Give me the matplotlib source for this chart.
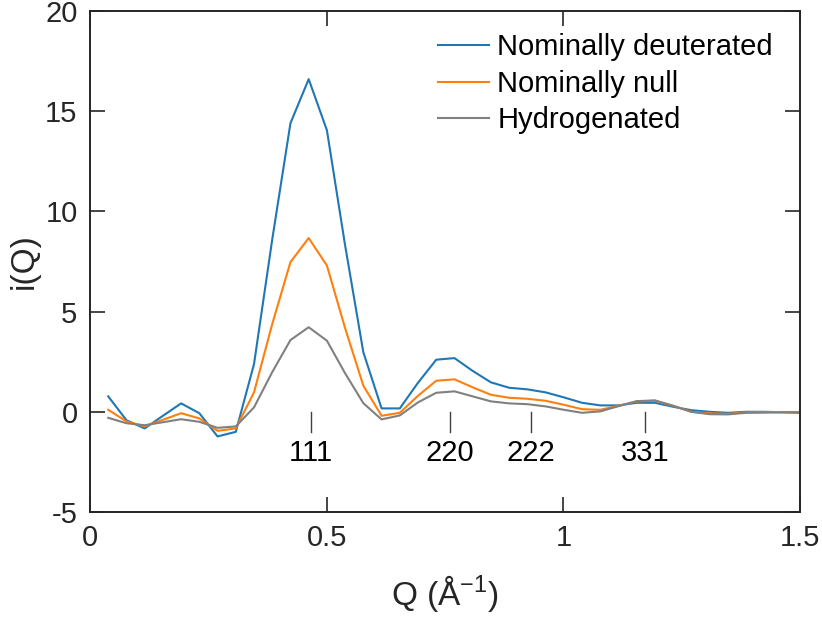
import numpy as np
from matplotlib import pyplot as plt

plt.rcParams['font.family'] = ['Liberation Sans', 'DejaVu Sans']
plt.rcParams['mathtext.fontset'] = 'custom'
plt.rcParams['mathtext.rm'] = 'Liberation Sans'
plt.rcParams['mathtext.it'] = 'Liberation Sans:italic'
plt.rcParams['axes.unicode_minus'] = False

# Q (1/Å)
Q = [0.0385, 0.0770, 0.1155, 0.1540, 0.1925, 0.2310, 0.2695, 0.3080, 0.3465, 0.3850,
     0.4235, 0.4620, 0.5005, 0.5390, 0.5775, 0.6160, 0.6545, 0.6930, 0.7315, 0.7700,
     0.8085, 0.8470, 0.8855, 0.9240, 0.9625, 1.0010, 1.0395, 1.0780, 1.1165, 1.1550,
     1.1935, 1.2320, 1.2705, 1.3090, 1.3475, 1.3860, 1.4245, 1.4630, 1.5015]

deuterated = [0.77, -0.42, -0.83, -0.2, 0.42, -0.07, -1.23, -1.0, 2.38, 8.6,
              14.4, 16.6, 14.05, 8.3, 2.97, 0.17, 0.17, 1.45, 2.6, 2.68,
              2.04, 1.47, 1.2, 1.12, 0.97, 0.72, 0.45, 0.32, 0.32, 0.45,
              0.45, 0.25, 0.08, 0.0, -0.05, 0.0, 0.0, -0.02, -0.05]

null = [0.1, -0.48, -0.73, -0.4, -0.07, -0.33, -0.95, -0.83, 0.97, 4.38,
        7.47, 8.67, 7.3, 4.17, 1.3, -0.2, -0.05, 0.8, 1.55, 1.62,
        1.22, 0.85, 0.7, 0.65, 0.55, 0.35, 0.13, 0.1, 0.3, 0.52,
        0.55, 0.3, 0.0, -0.08, -0.1, -0.03, -0.02, -0.01, -0.01]

hydrogenated = [-0.3, -0.57, -0.67, -0.52, -0.37, -0.5, -0.8, -0.73, 0.22, 1.98,
                3.58, 4.22, 3.55, 1.92, 0.43, -0.38, -0.18, 0.47, 0.95, 1.02,
                0.77, 0.52, 0.42, 0.38, 0.27, 0.1, -0.05, 0.02, 0.28, 0.53,
                0.57, 0.3, 0.0, -0.12, -0.13, -0.05, -0.04, -0.03, -0.03]

# picchi di Bragg
hkl = ['111', '220', '222', '331']
Q_hkl = [0.466, 0.761, 0.932, 1.173]

fig = plt.figure(figsize=(8.22, 6.17), dpi=100)
ax = fig.add_axes([90/822, 105/617, 710/822, 501/617])

ax.plot(Q, deuterated, color='#1f77b4', lw=1.5, label='Nominally deuterated')
ax.plot(Q, null, color='#ff7f0e', lw=1.5, label='Nominally null')
ax.plot(Q, hydrogenated, color='#808080', lw=1.5, label='Hydrogenated')

for lab, q in zip(hkl, Q_hkl):
    ax.plot([q, q], [0, -1], color='#404040', lw=1)
    ax.text(q, -2.05, lab, ha='center', va='center', fontsize=21, color='k')

ax.set_xlim(0, 1.5)
ax.set_ylim(-5, 20)
ax.set_xticks([0, 0.5, 1, 1.5])
ax.set_xticklabels(['0', '0.5', '1', '1.5'])
ax.set_yticks([-5, 0, 5, 10, 15, 20])

for s in ax.spines.values():
    s.set_color('#262626')
    s.set_linewidth(1.4)
ax.tick_params(direction='in', length=10.5, width=1.2, color='#262626',
               labelsize=21, labelcolor='#262626', top=True, right=True)
ax.tick_params(axis='x', pad=9)
ax.tick_params(axis='y', pad=9)

ax.set_xlabel('Q (Å$^{-1}$)', fontsize=24, color='#262626', labelpad=15)
ax.set_ylabel('i(Q)', fontsize=24, color='#262626', labelpad=4)

ax.legend(loc='upper right', frameon=False, fontsize=21, handlelength=1.75,
          handletextpad=0.3, labelspacing=0.29, borderaxespad=0,
          bbox_to_anchor=(0.9785, 0.9785))

plt.savefig('out.png', dpi=100)
